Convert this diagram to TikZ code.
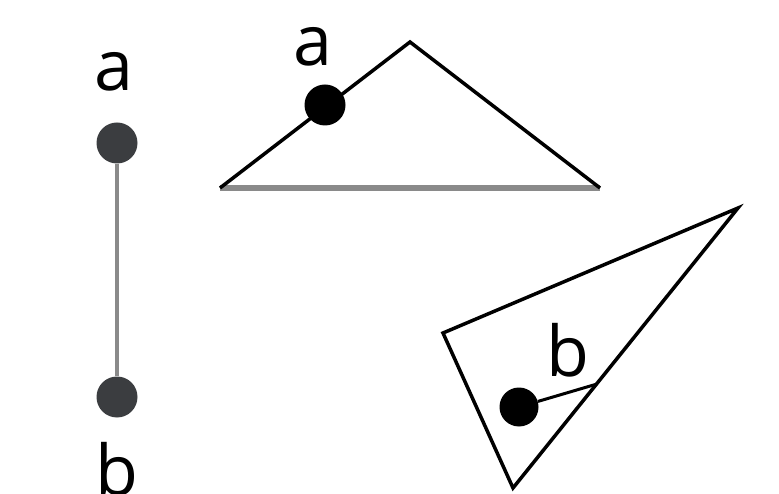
\documentclass[tikz,border=0pt]{standalone}
\usepackage{fontspec}
\setmainfont{Open Sans}
\definecolor{edgegray}{HTML}{8A8A8A}
\definecolor{dotdark}{HTML}{3B3D40}
\tikzset{
  px/.style={x=1pt,y=-1pt},
  lbl/.style={inner sep=0pt,font=\fontsize{70}{70}\selectfont},
  darkdot/.style={circle,fill=dotdark,minimum size=41pt,inner sep=0pt},
  blackdot/.style={circle,fill=black,minimum size=41pt,inner sep=0pt},
  tri/.style={draw=black,line width=3.5pt,line join=miter},
}
\begin{document}
\begin{tikzpicture}[px]
\useasboundingbox (0,0) rectangle (779,494);
% left segment
\node[darkdot] (la) at (117,143) {};
\node[darkdot] (lb) at (117,397) {};
\draw[edgegray,line width=4pt] (la) -- (lb);
\node[lbl] (lat) at (114,72) {a};
\node[lbl] (lbt) at (117,469) {b};
% top triangle
\coordinate (t1) at (220,188);
\coordinate (t2) at (410,42);
\coordinate (t3) at (600,188);
\draw[edgegray,line width=6pt] (t1) -- (t3);
\draw[tri] (t1) -- (t2) -- (t3);
\node[blackdot] (ta) at (325,105) {};
\node[lbl] (tat) at (313,47) {a};
% lower triangle
\coordinate (u1) at (443,333);
\coordinate (u2) at (738,208);
\coordinate (u3) at (513,488);
\draw[tri] (u1) -- (u2) -- (u3) -- cycle;
\coordinate (ue) at (597,384);
\node[blackdot,minimum size=39pt] (ub) at (519,407) {};
\draw[black,line width=3pt] (ub) -- (ue);
\node[lbl] (ubt) at (568,350) {b};
\end{tikzpicture}
\end{document}
